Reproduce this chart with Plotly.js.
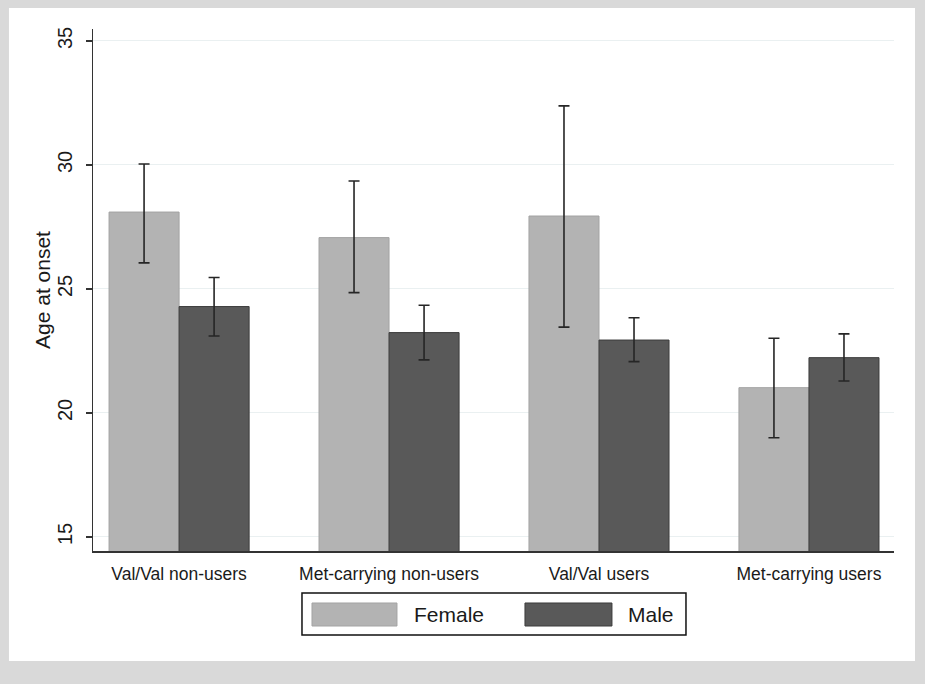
<!DOCTYPE html>
<html>
<head>
<meta charset="utf-8">
<script src="https://cdn.plot.ly/plotly-3.0.1.min.js"></script>
<style>html,body{margin:0;padding:0;background:#d9d9d9;}#chart{width:925px;height:684px;}</style>
</head>
<body>
<div id="chart"></div>
<script>
// ---- data ----
var categories = ["Val/Val non-users", "Met-carrying non-users", "Val/Val users", "Met-carrying users"];
var seriesNames = ["Female", "Male"];
var femaleMean = [28.1, 27.07, 27.94, 21.02];
var femaleUpper = [30.04, 29.35, 32.38, 23.01];
var femaleLower = [26.05, 24.85, 23.46, 19.0];
var maleMean = [24.29, 23.24, 22.94, 22.23];
var maleUpper = [25.46, 24.34, 23.84, 23.19];
var maleLower = [23.1, 22.14, 22.07, 21.29];
var yTicks = [15, 20, 25, 30, 35];
var yTitle = "Age at onset";

function diff(a, b) { return a.map(function (v, i) { return +(v - b[i]).toFixed(3); }); }

var femaleColor = "#b3b3b3", femaleLine = "#a3a3a3";
var maleColor = "#595959", maleLine = "#3c3c3c";
var errColor = "#262626";

var traces = [
  {
    type: "bar", name: seriesNames[0], x: categories, y: femaleMean,
    marker: {color: femaleColor, line: {color: femaleLine, width: 1}},
    error_y: {type: "data", symmetric: false, array: diff(femaleUpper, femaleMean),
              arrayminus: diff(femaleMean, femaleLower), color: errColor, thickness: 1.6, width: 5.5},
    showlegend: false, hoverinfo: "x+y"
  },
  {
    type: "bar", name: seriesNames[1], x: categories, y: maleMean,
    marker: {color: maleColor, line: {color: maleLine, width: 1}},
    error_y: {type: "data", symmetric: false, array: diff(maleUpper, maleMean),
              arrayminus: diff(maleMean, maleLower), color: errColor, thickness: 1.6, width: 5.5},
    showlegend: false, hoverinfo: "x+y"
  }
];

var fontFam = "Liberation Sans, Arial, sans-serif";
var layout = {
  width: 925, height: 684,
  margin: {l: 93, r: 31, t: 29, b: 133, pad: 0},
  paper_bgcolor: "#d9d9d9",
  plot_bgcolor: "rgba(0,0,0,0)",
  font: {family: fontFam, color: "#1a1a1a"},
  barmode: "group", bargap: 0.333, bargroupgap: 0,
  xaxis: {
    type: "category", range: [-0.41, 3.405],
    showline: true, linecolor: "#333333", linewidth: 1.5,
    ticks: "", showgrid: false, zeroline: false,
    tickfont: {size: 17.5, family: fontFam, color: "#1a1a1a"},
    ticklabelstandoff: 6, automargin: false, fixedrange: true
  },
  yaxis: {
    range: [14.435, 35.48], tickvals: yTicks, ticktext: yTicks.map(String),
    showline: true, linecolor: "#333333", linewidth: 1.5,
    ticks: "outside", ticklen: 6, tickwidth: 1.3, tickcolor: "#333333",
    tickangle: -90, tickfont: {size: 20, family: fontFam, color: "#1a1a1a"},
    ticklabelstandoff: 6,
    showgrid: true, gridcolor: "#eaf0f1", gridwidth: 1, zeroline: false,
    automargin: false, fixedrange: true
  },
  shapes: [
    {type: "rect", xref: "paper", yref: "paper", x0: -0.1049, x1: 1.0262, y0: -0.2107, y1: 1.0402,
     fillcolor: "#ffffff", line: {width: 0}, layer: "below"},
    {type: "rect", xref: "paper", yref: "paper", x0: 0.2609, x1: 0.7403, y0: -0.1609, y1: -0.0805,
     fillcolor: "#ffffff", line: {color: "#111111", width: 1.5}, layer: "above"},
    {type: "rect", xref: "paper", yref: "paper", x0: 0.2734, x1: 0.3795, y0: -0.1437, y1: -0.0996,
     fillcolor: femaleColor, line: {color: femaleLine, width: 1}, layer: "above"},
    {type: "rect", xref: "paper", yref: "paper", x0: 0.5393, x1: 0.6479, y0: -0.1437, y1: -0.0996,
     fillcolor: maleColor, line: {color: maleLine, width: 1}, layer: "above"}
  ],
  annotations: [
    {xref: "paper", yref: "paper", x: -0.0637, y: 0.5, xanchor: "center", yanchor: "middle",
     textangle: -90, text: yTitle, showarrow: false, font: {size: 21, family: fontFam, color: "#1a1a1a"}},
    {xref: "paper", yref: "paper", x: 0.3985, y: -0.1216, xanchor: "left", yanchor: "middle",
     text: seriesNames[0], showarrow: false, font: {size: 21, family: fontFam, color: "#1a1a1a"}},
    {xref: "paper", yref: "paper", x: 0.6657, y: -0.1216, xanchor: "left", yanchor: "middle",
     text: seriesNames[1], showarrow: false, font: {size: 21, family: fontFam, color: "#1a1a1a"}}
  ]
};

Plotly.newPlot("chart", traces, layout, {displayModeBar: false, staticPlot: true});
</script>
</body>
</html>
